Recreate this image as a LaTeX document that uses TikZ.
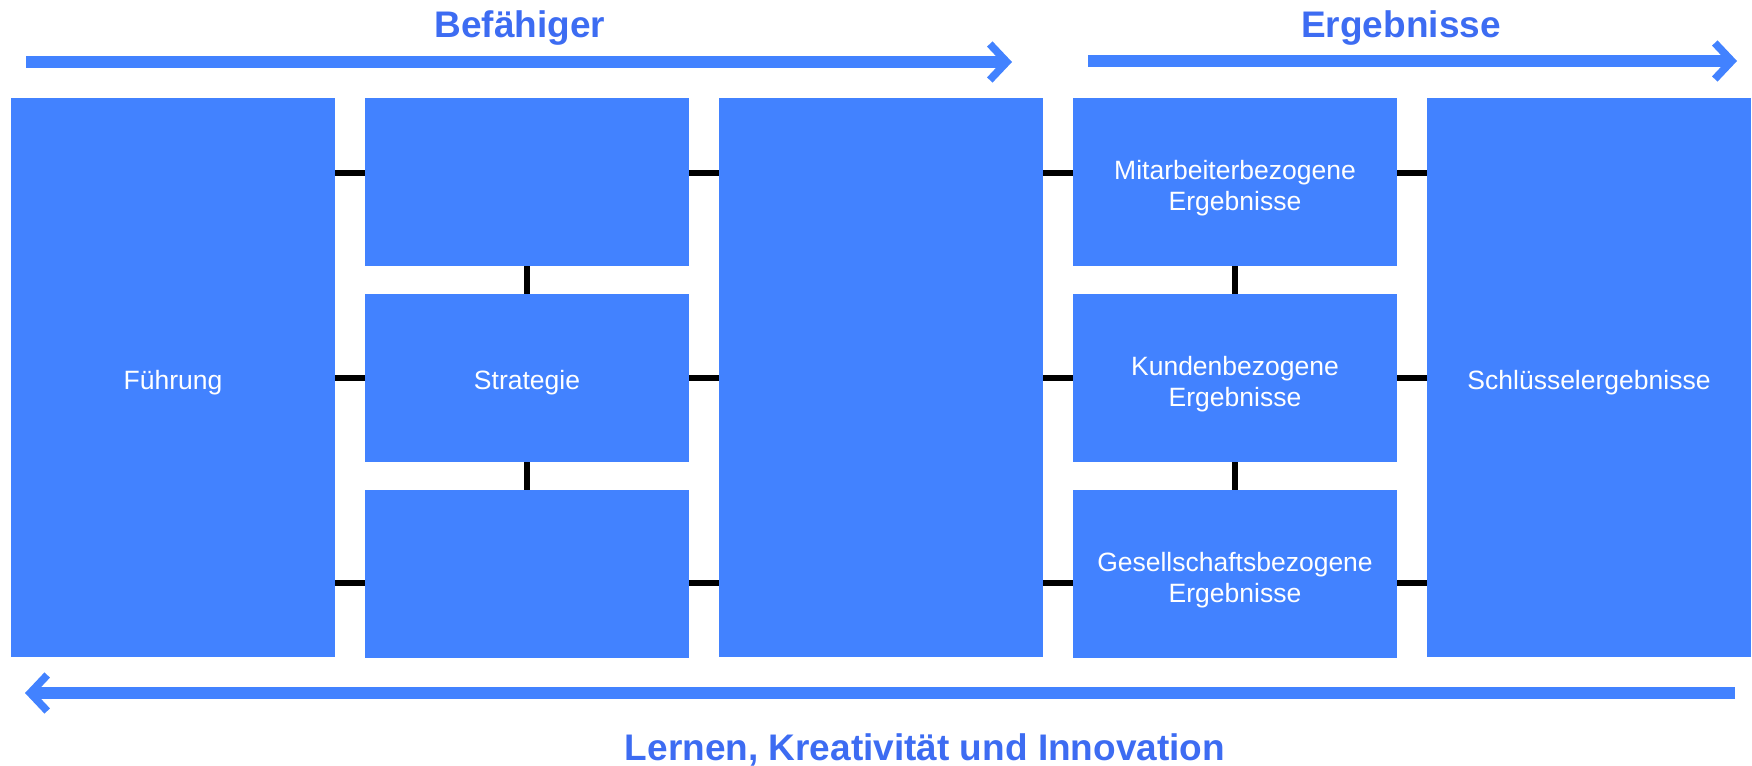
\documentclass[tikz,border=0pt]{standalone}
\usepackage{fontspec}
\setmainfont{Liberation Sans}
\usetikzlibrary{arrows.meta}
\usetikzlibrary{calc}

\definecolor{boxblue}{HTML}{4282FF}
\definecolor{titleblue}{HTML}{3D6CF2}

\tikzset{
    bigbox/.style   = {fill=boxblue, inner sep=0pt, minimum width=162pt, minimum height=279.5pt,
                       text=white, align=center, text height=14.7pt,
                       font=\fontsize{13.25}{15.5}\selectfont},
    smallbox/.style = {bigbox, minimum height=84pt},
    twoline/.style  = {text height=30.8pt},
    link/.style     = {line width=3.2pt, black},
    flow/.style     = {line width=6pt, boxblue,
                       arrows = -{Straight Barb[length=8.5pt,width=18pt,line width=3.8pt]}},
    title/.style    = {anchor=base, text=titleblue, font=\fontsize{18.5}{22}\selectfont\bfseries}
}

\begin{document}
\begin{tikzpicture}[x=0.5pt,y=-0.5pt]

            %\draw [help lines] (0,0) grid (1752,766);
            \useasboundingbox (0,0) rectangle (1752,766);

            \path   (173,377.5)  node (fuehrung) [bigbox]   {Führung}
                    (527,182)    node (ma)       [smallbox] {}
                    (527,378)    node (strat)    [smallbox] {Strategie}
                    (527,574)    node (pr)       [smallbox] {}
                    (881,377.5)  node (proz)     [bigbox]   {}
                    (1235,182)   node (mab)      [smallbox,twoline] {Mitarbeiterbezogene\\Ergebnisse}
                    (1235,378)   node (kund)     [smallbox,twoline] {Kundenbezogene\\Ergebnisse}
                    (1235,574)   node (ges)      [smallbox,twoline] {Gesellschaftsbezogene\\Ergebnisse}
                    (1589,377.5) node (schl)     [bigbox]   {Schlüsselergebnisse};

            \path   (520,37)  node (befaehiger) [title] {Befähiger}
                    (1401,37) node (ergebnisse) [title] {Ergebnisse}
                    (925,760) node (lernen)     [title] {Lernen, Kreativität und Innovation};

            \coordinate (r1) at (0,173);
            \coordinate (r2) at (0,378);
            \coordinate (r3) at (0,583);

            \foreach \r in {r1,r2,r3} {
                \draw[link] (fuehrung.east |- \r) -- (ma.west |- \r);
                \draw[link] (ma.east |- \r)       -- (proz.west |- \r);
                \draw[link] (proz.east |- \r)     -- (mab.west |- \r);
                \draw[link] (mab.east |- \r)      -- (schl.west |- \r);
            }

            \draw[line width=3pt] (ma.south)  -- (strat.north);
            \draw[line width=3pt] (strat.south) -- (pr.north);
            \draw[line width=3pt] (mab.south) -- (kund.north);
            \draw[line width=3pt] (kund.south) -- (ges.north);

            \coordinate (befstart) at (26,62);
            \coordinate (befend)   at (1012,62);
            \coordinate (ergstart) at (1088,61);
            \coordinate (ergend)   at (1737,61);
            \coordinate (lerstart) at (1735,693);
            \coordinate (lerend)   at (25,693);

            \draw[flow] (befstart) -- (befend);
            \draw[flow] (ergstart) -- (ergend);
            \draw[flow] (lerstart) -- (lerend);
        \end{tikzpicture}
\end{document}
